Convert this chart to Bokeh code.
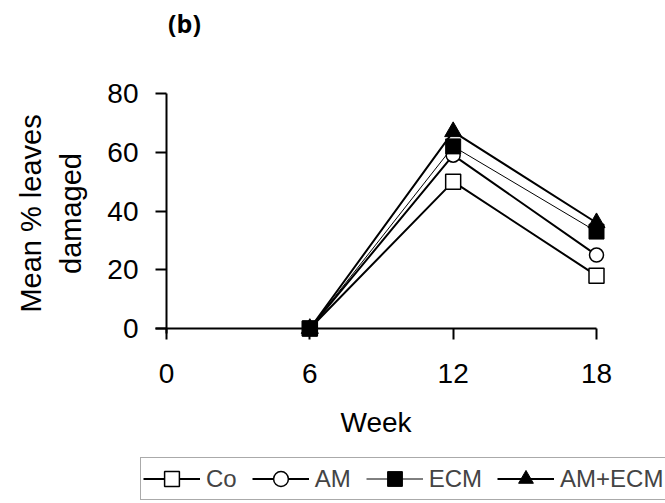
from bokeh.plotting import figure
from bokeh.models import Range1d, FixedTicker, Legend, LegendItem, Label, LinearAxis
from bokeh.embed import file_html
from bokeh.resources import INLINE

# ---- data ----
weeks = [6, 12, 18]
co = [0, 50, 18]
am = [0, 59, 25]
ecm = [0, 62, 33]
am_ecm = [0, 67, 36]
x_ticks = [0, 6, 12, 18]
y_ticks = [0, 20, 40, 60, 80]
series_names = ["Co", "AM", "ECM", "AM+ECM"]

FONT = "Liberation Sans"
W, H = 665, 503

# pixel anchors of the data area within the canvas
X0_PX, X_PER_UNIT = 166.0, (596.0 - 166.0) / 18.0
Y0_PX, Y_PER_UNIT = 328.0, (328.0 - 93.0) / 80.0

x_range = Range1d(-X0_PX / X_PER_UNIT, (W - X0_PX) / X_PER_UNIT)
y_range = Range1d(-(H - Y0_PX) / Y_PER_UNIT, Y0_PX / Y_PER_UNIT)

p = figure(width=W, height=H, x_range=x_range, y_range=y_range,
           output_backend="svg", toolbar_location=None,
           x_axis_location=None, y_axis_location=None,
           min_border_left=0, min_border_right=0,
           min_border_top=0, min_border_bottom=0)
p.outline_line_color = None
p.grid.visible = False
p.background_fill_color = "white"
p.border_fill_color = "white"


def style_axis(ax):
    ax.fixed_location = 0
    ax.axis_line_width = 2
    ax.axis_line_color = "black"
    ax.major_tick_line_width = 2
    ax.major_tick_line_color = "black"
    ax.major_tick_out = 11
    ax.major_tick_in = 0
    ax.minor_tick_line_color = None
    ax.major_label_text_font = FONT
    ax.major_label_text_font_size = "28px"
    ax.major_label_text_color = "black"
    ax.axis_label_text_font = FONT
    ax.axis_label_text_font_size = "28px"
    ax.axis_label_text_font_style = "normal"
    ax.axis_label_text_color = "black"


xaxis = LinearAxis(ticker=FixedTicker(ticks=x_ticks), bounds=(-0.46, 18))
style_axis(xaxis)
xaxis.major_label_standoff = 24
xaxis.axis_label = "Week"
xaxis.axis_label_standoff = 21
p.add_layout(xaxis, "below")

yaxis = LinearAxis(ticker=FixedTicker(ticks=y_ticks), bounds=(-1.7, 80))
style_axis(yaxis)
yaxis.major_label_standoff = 17
yaxis.axis_label = "Mean % leaves\ndamaged"
yaxis.axis_label_text_font_size = "29px"
yaxis.axis_label_text_line_height = 1.27
yaxis.axis_label_standoff = 17
p.add_layout(yaxis, "left")

l1 = p.line(weeks, co, line_color="black", line_width=2)
s1 = p.scatter(weeks, co, marker="square", size=15, fill_color="white", line_color="black", line_width=1.5)
l2 = p.line(weeks, am, line_color="black", line_width=2)
s2 = p.scatter(weeks, am, marker="circle", size=14, fill_color="white", line_color="black", line_width=1.5)
l4 = p.line(weeks, am_ecm, line_color="black", line_width=2)
s4 = p.scatter(weeks, am_ecm, marker="triangle", size=17, fill_color="black", line_color="black")
l3 = p.line(weeks, ecm, line_color="black", line_width=1)
s3 = p.scatter(weeks, ecm, marker="square", size=15, fill_color="black", line_color="black")

legend = Legend(items=[
    LegendItem(label=series_names[0], renderers=[l1, s1]),
    LegendItem(label=series_names[1], renderers=[l2, s2]),
    LegendItem(label=series_names[2], renderers=[l3, s3]),
    LegendItem(label=series_names[3], renderers=[l4, s4]),
], orientation="horizontal", location=(140, 3),
    glyph_width=57, glyph_height=37, label_height=37,
    label_text_font=FONT, label_text_font_size="24px",
    label_standoff=6, spacing=15, padding=2, margin=0,
    border_line_color="#555555", border_line_width=1,
    background_fill_color="white", background_fill_alpha=1)
p.add_layout(legend, "center")

title = Label(x=184, y=H - 22, x_units="screen", y_units="screen", text="(b)",
              text_font="Open Sans", text_font_style="bold", text_font_size="25px",
              text_align="center", text_baseline="middle", text_color="black")
p.add_layout(title)

open("out.html", "w").write(file_html(p, INLINE))
